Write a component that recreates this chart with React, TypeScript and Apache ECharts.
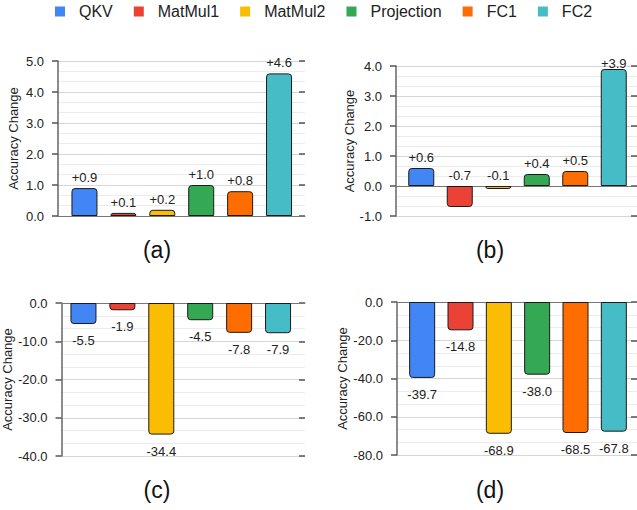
import React, { useEffect, useRef } from "react";
import * as echarts from "echarts";

const categories = ["QKV", "MatMul1", "MatMul2", "Projection", "FC1", "FC2"];
const seriesColors = ["#4285F4", "#EA4335", "#FBBC04", "#34A853", "#FF6D01", "#46BDC6"];

const valuesA = [0.9, 0.1, 0.2, 1.0, 0.8, 4.6];
const valuesB = [0.6, -0.7, -0.1, 0.4, 0.5, 3.9];
const valuesC = [-5.5, -1.9, -34.4, -4.5, -7.8, -7.9];
const valuesD = [-39.7, -14.8, -68.9, -38.0, -68.5, -67.8];

const captions = ["(a)", "(b)", "(c)", "(d)"];
const axisRanges = [
  { min: 0, max: 5, interval: 1 },
  { min: -1, max: 4, interval: 1 },
  { min: -40, max: 0, interval: 10 },
  { min: -80, max: 0, interval: 20 },
];
const axisTitle = "Accuracy Change";

const FONT = "Liberation Sans, Arial, sans-serif";

// layout (pixels)
const panels = [
  { values: valuesA, wide: { left: 58, top: 61, width: 247, height: 155 }, bars: { left: 65, width: 233.5 }, labelPos: "top", cap: { x: 157, y: 250 } },
  { values: valuesB, wide: { left: 396, top: 66, width: 241, height: 150 }, bars: { left: 402, width: 231 }, labelPos: "top", cap: { x: 490, y: 250 } },
  { values: valuesC, wide: { left: 58, top: 303, width: 247, height: 153 }, bars: { left: 64, width: 233.5 }, labelPos: "bottom", cap: { x: 157, y: 490 } },
  { values: valuesD, wide: { left: 397, top: 302, width: 240, height: 153 }, bars: { left: 403, width: 230 }, labelPos: "bottom", cap: { x: 490, y: 490 } },
];

function fmtLabel(v: number) {
  return (v > 0 ? "+" : "") + v.toFixed(1);
}

function buildOption() {
  const grid: any[] = [];
  const xAxis: any[] = [];
  const yAxis: any[] = [];
  const series: any[] = [];
  const graphic: any[] = [];

  panels.forEach((p, pi) => {
    const r = axisRanges[pi];
    const wideIdx = grid.length;
    grid.push({ left: p.wide.left, top: p.wide.top, width: p.wide.width, height: p.wide.height });
    const barIdx = grid.length;
    grid.push({ left: p.bars.left, top: p.wide.top, width: p.bars.width, height: p.wide.height });

    xAxis.push({
      type: "category",
      gridIndex: wideIdx,
      data: categories,
      axisLabel: { show: false },
      axisTick: { show: false },
      axisLine: { show: true, onZero: true, lineStyle: { color: "#777", width: 1 } },
      z: 1,
    });
    yAxis.push({
      type: "value",
      gridIndex: wideIdx,
      min: r.min,
      max: r.max,
      interval: r.interval,
      name: axisTitle,
      nameLocation: "middle",
      nameGap: 38,
      nameTextStyle: { fontFamily: FONT, fontSize: 13, color: "#222" },
      axisLine: { show: true, lineStyle: { color: "#666", width: 1.5 } },
      axisTick: { show: true, length: 6, lineStyle: { color: "#555", width: 1.5 } },
      axisLabel: {
        margin: 14,
        fontFamily: FONT,
        fontSize: 13,
        color: "#222",
        formatter: (v: number) => v.toFixed(1),
      },
      splitLine: { show: true, lineStyle: { color: "#d6d6d6", width: 1 } },
      minorTick: { show: false, splitNumber: 3 },
      minorSplitLine: { show: true, lineStyle: { color: "#ececec", width: 1 } },
    });
    yAxis.push({
      type: "value",
      gridIndex: wideIdx,
      min: r.min,
      max: r.max,
      interval: r.interval,
      axisLine: { show: false },
      axisTick: { show: true, inside: true, length: 6, lineStyle: { color: "#555", width: 1.5 } },
      axisLabel: { show: false },
      splitLine: { show: false },
    });
    const barX = xAxis.length;
    xAxis.push({ type: "category", gridIndex: barIdx, data: categories, show: false });
    const barY = yAxis.length;
    yAxis.push({ type: "value", gridIndex: barIdx, min: r.min, max: r.max, interval: r.interval, show: false });

    categories.forEach((cat, ci) => {
      const data = p.values.map((v, k) => {
        if (k !== ci) return null;
        const item: any = {
          value: v,
          itemStyle: { borderRadius: v >= 0 ? [3, 3, 0, 0] : [0, 0, 3, 3] },
        };
        // label that would overflow the top edge is pushed down (panel b, FC2)
        if (pi === 1 && v > r.max - 0.3) item.label = { distance: -1 };
        return item;
      });
      series.push({
        type: "bar",
        name: cat,
        xAxisIndex: barX,
        yAxisIndex: barY,
        data,
        barWidth: 26,
        barGap: "-100%",
        itemStyle: { color: seriesColors[ci], borderColor: "#1a1a1a", borderWidth: 1 },
        label: {
          show: true,
          position: p.labelPos,
          distance: p.labelPos === "top" ? 4 : 10,
          fontFamily: FONT,
          fontSize: 13,
          color: "#222",
          formatter: (prm: any) => fmtLabel(prm.value),
        },
        z: 3,
      });
    });

    graphic.push({
      type: "text",
      x: p.cap.x,
      y: p.cap.y,
      style: {
        text: captions[pi],
        fontFamily: FONT,
        fontSize: 23,
        fill: "#111",
        textAlign: "center",
        textVerticalAlign: "middle",
      },
    });
  });

  return {
    animation: false,
    color: seriesColors,
    textStyle: { fontFamily: FONT },
    legend: {
      data: categories,
      left: 55,
      top: 3.5,
      padding: 0,
      icon: "rect",
      itemWidth: 10,
      itemHeight: 10,
      itemGap: 21,
      textStyle: { fontFamily: FONT, fontSize: 16, color: "#222", padding: [0, 0, 0, 9] },
      itemStyle: { borderWidth: 0 },
    },
    grid,
    xAxis,
    yAxis,
    series,
    graphic,
  };
}

export default function App() {
  const ref = useRef<HTMLDivElement>(null);
  useEffect(() => {
    if (!ref.current) return;
    const chart = echarts.init(ref.current, undefined, { renderer: "svg" });
    chart.setOption(buildOption() as any);
    return () => chart.dispose();
  }, []);
  return (
    <div
      ref={ref}
      style={{ position: "absolute", left: 0, top: 0, width: 637, height: 510, background: "#fff" }}
    />
  );
}
